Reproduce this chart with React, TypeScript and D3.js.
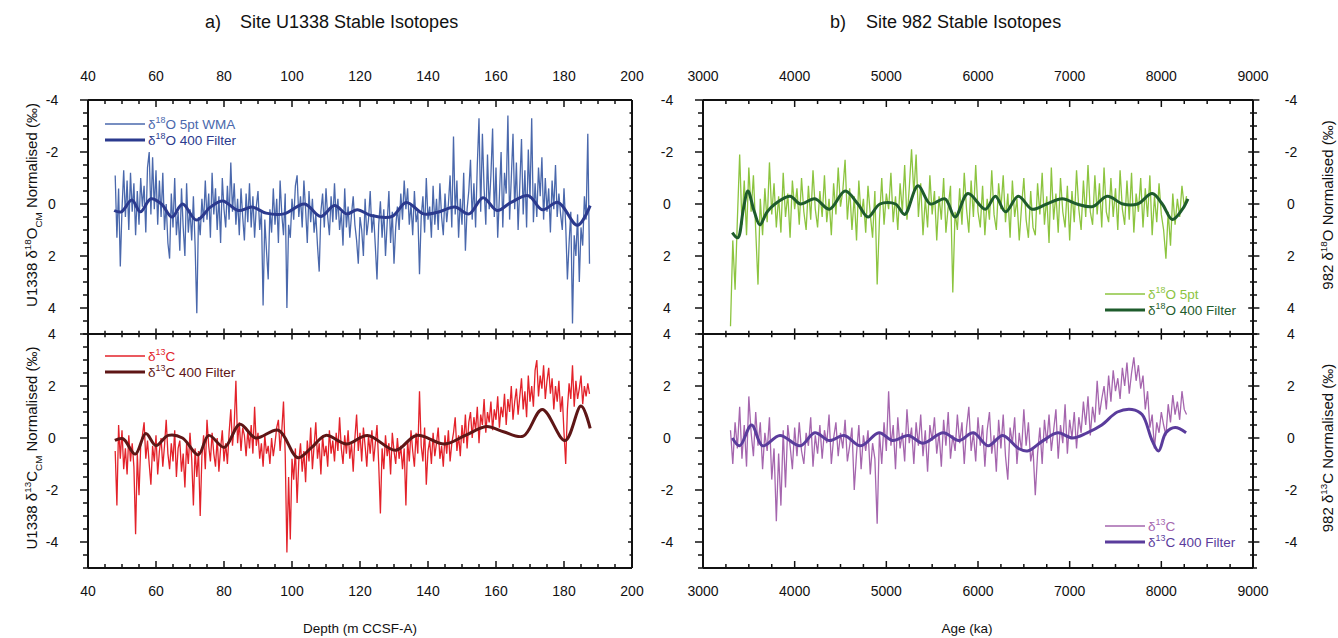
import React from 'react';
import * as d3 from 'd3';

const W = 1338, H = 638;

// ---------- ticks ----------
const depthTickLabels = [40, 60, 80, 100, 120, 140, 160, 180, 200];
const ageTickLabels = [3000, 4000, 5000, 6000, 7000, 8000, 9000];
const o18TickLabels = [-4, -2, 0, 2, 4];
const c13TickLabels = [4, 2, 0, -2, -4];

// ---------- U1338 (depth, m) ----------
const u1338Start = 48;
const u1338Step = 0.5;
const u1338O18 = [
  -1.1, 1.3, -0.6, 2.4, 0.2, -1.3, 0.5, -0.9, 1.0, -1.2,
  0.3, -0.8, 1.2, -0.5, 0.8, -1.0, 0.1, -0.7, 1.1, -1.4,
  -2.0, 0.4, -1.8, 0.2, -1.3, 0.8, -0.9, 0.5, -1.2, 1.0,
  0.0, 1.5, 2.1, -0.4, 0.9, -1.0, 1.2, 0.3, 1.8, -0.6,
  0.9, 2.0, -0.8, 1.1, 0.2, 1.4, -0.3, 1.6, 4.2, 0.5,
  1.2, -0.2, 0.7, -0.9, 0.6, -0.4, 1.3, -1.2, 0.4, -0.6,
  1.0, -0.3, 1.5, -1.0, 0.2, 0.9, -0.7, 0.6, -1.6, 0.3,
  -0.8, 0.8, -0.2, 1.2, -0.6, 0.5, 1.4, -0.4, 0.7, -0.8,
  0.9, -0.3, 1.3, 0.1, -0.5, 1.0, 0.3, 3.9, 0.6, 1.8,
  2.9, 0.2, 1.1, -0.6, 0.8, -0.2, 1.5, -0.9, 0.4, 1.2,
  -0.4, 4.0, 0.8, 1.3, -0.2, 0.6, -0.7, -1.1, 0.5, -0.3,
  0.9, -0.9, 0.2, 1.5, -0.5, 0.7, -0.2, 1.1, 0.4, 1.6,
  2.6, 0.3, -0.4, 0.9, -0.6, 0.5, 1.2, -0.3, 0.7, -0.8,
  0.6, -0.2, 1.0, 0.3, 1.6, -0.6, 0.9, 0.1, 1.3, 0.4,
  -0.3, 0.8, 1.4, 2.3, 0.5, 1.0, 2.0, -0.2, 1.2, 0.6,
  -0.5, 1.1, 0.4, 1.6, 2.9, 0.8, -0.1, 1.3, 0.2, 2.0,
  0.7, -0.5, 1.5, 0.3, 2.3, 0.9, 0.1, 1.0, -0.4, 0.6,
  -0.9, 0.2, -0.6, 0.8, 0.0, 1.2, -0.5, 0.7, 0.3, 2.7,
  0.5, -0.3, 1.1, -1.0, 0.6, 0.1, 1.3, -0.7, 0.8, -0.2,
  1.0, -0.8, 0.5, 1.2, -0.4, 0.7, 0.0, -1.1, 0.9, -2.6,
  0.4, -0.9, 1.3, -0.2, 0.8, -1.2, 1.8, 0.2, -0.5, -1.7,
  0.6, -0.8, 0.9, -1.5, -3.3, 0.3, -2.7, -0.6, 0.8, -1.9,
  0.2, -1.1, -2.9, 0.5, -1.4, 1.3, -0.3, -2.0, 0.9, -1.2,
  -0.4, -3.4, 0.6, -1.0, -2.7, 0.2, -1.6, 1.0, -0.7, -2.5,
  0.4, -1.3, 0.9, -2.1, -0.2, -3.3, 0.7, -0.8, 0.5, -1.4,
  -0.3, -1.8, 0.6, -1.0, 0.3, -0.6, 1.1, -0.9, 0.2, -1.5,
  0.5, -0.4, 0.4, 1.0, -0.6, 0.8, 2.9, 1.5, 0.3, 4.6,
  1.2, 2.0, 0.4, 3.0, 0.9, 1.6, -0.3, 0.6, -2.7, 2.3,
];
const u1338C13 = [
  -0.5, -2.6, 0.5, -0.8, 0.3, -1.2, -0.4, -1.4, 0.1, -0.9,
  -0.2, -1.1, -3.7, -0.6, -2.2, -0.3, 0.1, 0.6, -0.8, -0.1,
  -1.0, -1.8, -0.3, -0.9, 0.1, -1.4, -0.5, 0.0, -1.1, -0.3,
  0.7, -0.6, -1.2, -0.2, -0.9, 0.3, -1.5, -0.4, -0.1, -1.3,
  -0.6, -1.9, -0.2, -1.0, 0.2, -0.8, -2.6, -0.4, -1.5, -0.5,
  -3.0, -0.7, 0.1, -1.2, 0.7, -0.3, -0.9, 0.2, -0.6, -1.1,
  0.0, -1.3, -0.4, 0.3, -0.9, -0.2, -1.0, 0.2, 1.1, -0.3,
  0.5, 2.2, -0.2, 0.6, -0.5, 0.4, 0.1, -0.7, 0.3, -0.4,
  0.5, -0.6, 1.2, -0.3, 0.2, -0.8, -0.2, -1.1, 0.1, -0.6,
  -0.3, -1.0, 0.0, -0.7, -0.2, 0.4, 0.7, -0.5, 0.3, 1.4,
  -0.6, -4.4, -1.5, -3.9, -0.8, -1.6, -0.4, -2.5, -0.9, -0.2,
  -1.3, -0.5, -1.7, -0.1, -0.9, 0.4, -1.2, -0.3, 0.6, -0.8,
  -0.2, -1.4, 0.1, -0.7, -0.3, -1.1, 0.3, -0.6, -0.1, -0.9,
  0.2, -0.5, 0.8, -0.4, -1.0, 0.1, -0.6, 0.3, -0.8, -0.2,
  -1.3, 0.0, 0.9, -0.5, 0.2, -0.9, 0.4, -0.3, -1.1, 0.1,
  -0.6, 0.3, -0.9, -0.2, 0.5, -1.0, -2.9, -0.4, -1.2, 0.1,
  -0.7, -0.2, -1.4, 0.2, -0.5, -1.0, 0.0, -0.8, -0.3, -1.2,
  -0.4, -2.6, -0.1, -0.9, 0.3, -0.5, -1.1, 0.2, -0.6, 1.8,
  -0.3, -0.9, 0.4, -1.8, -0.5, -0.1, -1.0, 0.2, -0.7, -0.2,
  0.4, -0.8, -0.3, -1.1, 0.1, -0.6, 0.3, -0.9, -0.2, 0.2,
  0.8, -0.5, 0.1, -0.7, 0.5, -0.2, 0.9, -0.4, 0.6, 1.0,
  0.0, 0.8, 0.3, 1.2, -0.2, 0.9, 0.5, 1.5, 0.2, 1.0,
  0.6, 1.4, 0.3, 1.1, 0.7, 1.6, 0.4, 1.2, 0.8, 1.7,
  0.5, 1.5, 1.0, 2.0, 0.7, 1.4, 1.9, 0.9, 1.6, 2.3,
  1.1, 1.8, 0.8, 2.4, 1.4, 2.0, 1.2, 2.6, 3.0, 1.6,
  2.4, 1.9, 2.8, 1.5, 2.2, 2.7, 1.7, 2.3, 1.1, 2.0,
  1.4, 2.2, 1.0, 1.6, 0.2, -1.0, 1.1, 2.1, 1.5, 2.8,
  1.2, 2.2, 1.5, 1.9, 2.4, 1.3, 2.0, 1.6, 2.1, 1.7,
];
const u1338O18FilterDepth = [47.7, 49.8, 52.9, 55.4, 58.5, 61.6, 64.7, 67.8, 71.9, 76.0, 79.6, 84.2, 88.3, 92.4, 97.6, 103.7, 108.4, 112.5, 116.1, 119.2, 123.3, 129.4, 133.6, 138.7, 142.8, 147.9, 152.1, 156.2, 160.3, 164.4, 169.5, 173.6, 178.3, 183.9, 187.7];
const u1338O18FilterVal = [0.25, 0.3, -0.15, 0.3, -0.2, 0.0, 0.5, 0.0, 0.62, 0.12, -0.12, 0.25, 0.12, 0.35, 0.38, 0.0, 0.48, 0.06, 0.38, 0.22, 0.44, 0.48, -0.06, 0.38, 0.32, 0.12, 0.38, -0.24, 0.25, -0.06, -0.32, 0.22, -0.06, 0.82, 0.06];
const u1338C13FilterDepth = [47.9, 50.3, 53.9, 57.0, 60.0, 63.6, 67.8, 72.4, 75.5, 80.1, 84.7, 89.3, 96.0, 101.7, 105.8, 109.9, 116.1, 122.2, 130.5, 136.6, 144.9, 151.0, 157.2, 162.2, 168.0, 173.6, 180.3, 185.0, 187.7];
const u1338C13FilterVal = [-0.09, -0.03, -0.62, 0.17, -0.29, 0.1, 0.0, -0.65, 0.1, -0.36, 0.53, 0.0, 0.3, -0.76, -0.36, 0.1, -0.23, 0.1, -0.47, 0.1, -0.23, 0.1, 0.44, 0.24, 0.07, 1.1, -0.1, 1.23, 0.37];

// ---------- Site 982 (age, ka) ----------
const s982Start = 3300;
const s982Step = 25;
const s982O18 = [
  4.7, 1.4, 3.3, 0.6, -1.9, 0.8, -0.9, 1.2, -1.4, 0.3,
  -1.1, 1.0, 3.1, -0.2, 1.2, -0.6, 0.7, -1.6, 0.4, -0.8,
  0.9, -0.3, 1.1, -1.2, 0.5, -0.4, 1.3, -0.9, 0.2, -0.6,
  0.8, -1.0, 0.3, 1.0, -0.7, 0.6, -1.3, 0.2, 0.9, -0.5,
  0.5, -1.1, 0.7, -0.2, 1.2, -0.8, 0.4, -1.4, 0.1, -0.5,
  -1.7, 0.6, -0.6, 1.0, -0.3, 1.4, -0.9, 0.5, -0.2, 1.1,
  -0.7, 0.4, 1.3, -0.5, 3.1, 0.6, -1.0, 0.8, -0.4, 0.2,
  -1.2, 0.7, -0.3, 1.0, -0.8, 0.3, -1.5, 0.6, -0.6, -2.1,
  -0.4, -1.9, 0.5, -0.8, 1.2, -0.2, 0.9, -1.1, 0.4, -0.5,
  1.4, -0.3, 0.6, -1.0, 1.1, 0.1, -0.7, 3.4, 0.3, 1.0,
  -0.6, 0.8, -1.2, 0.2, 1.1, -0.9, 0.5, -1.5, 0.3, 0.9,
  -0.7, 1.2, -0.2, 0.6, -1.3, 0.4, 1.0, -0.8, 0.2, -1.1,
  0.7, -0.4, 1.3, -0.9, 0.5, -0.2, 1.4, 0.1, -1.0, 0.6,
  1.3, -0.5, 0.9, 1.2, -0.8, 0.4, -1.2, 0.8, -0.3, 1.5,
  -1.4, 0.6, -0.4, 1.1, -1.0, 0.3, 0.9, -0.7, 1.4, -0.5,
  0.7, -1.3, 0.2, 1.0, -0.9, 0.5, -1.5, 0.3, 0.8, -1.1,
  0.4, -0.8, 0.9, -1.4, 0.3, 0.7, -1.0, 0.5, -0.6, 1.0,
  -1.3, 0.2, 0.8, -0.9, 0.6, -1.2, 1.1, -0.4, 0.3, -1.0,
  0.9, -0.6, 0.5, -1.1, 1.2, -0.3, 0.7, -0.8, 0.4, 1.0,
  2.1, 0.3, 1.6, -0.4, 0.8, -0.2, 0.5, -0.7, 0.1, -0.3,
];
const s982C13 = [
  0.3, -1.0, 0.6, -0.4, 1.2, -0.8, 0.5, -1.1, 1.6, 0.2,
  -0.7, 1.0, -0.3, 0.6, -1.2, 0.2, -0.5, 0.8, -1.6, -0.4,
  -3.2, -0.6, -2.6, 0.3, -1.9, 0.5, -0.3, -1.2, 0.4, -0.7,
  0.6, -0.5, -1.0, 0.2, -0.3, 0.8, -1.1, 0.1, -0.6, 0.5,
  -0.8, 0.3, -0.2, 0.9, -1.0, 0.0, 0.6, -0.7, 0.2, -0.4,
  0.7, -0.9, -0.3, 0.4, -2.0, -0.6, 0.5, -1.2, 0.1, -0.5,
  0.3, -1.4, -0.2, -0.8, -3.3, 0.2, -1.0, 0.6, -0.5, 1.8,
  -0.3, 0.5, -1.2, 0.8, -0.4, 0.2, -0.9, 1.1, -0.2, 0.4,
  -1.0, 0.6, -0.3, 0.9, -0.7, 0.3, -1.3, 0.5, -0.1, 0.8,
  -0.6, 0.2, -1.1, 0.7, -0.3, 1.0, -0.8, 0.1, -0.5, 0.9,
  -0.2, 0.6, -1.0, 0.4, 1.2, -0.5, 0.2, -0.9, 0.8, -0.3,
  0.5, -1.1, 0.3, 1.0, -0.6, 0.1, -1.3, 0.7, -0.4, 0.9,
  -0.7, -1.6, 0.4, -0.2, 0.8, -1.0, 0.2, -0.5, 1.1, -0.3,
  0.6, -0.9, -0.4, -2.2, -0.6, 0.4, -1.0, 0.7, -0.2, 0.9,
  -0.5, 0.3, 1.1, -0.8, 0.5, -0.2, 1.3, -0.6, 0.7, 0.0,
  1.0, -0.4, 0.8, 0.2, 1.4, 0.5, 1.6, 0.1, 1.2, 0.6,
  2.2, 0.9, 1.5, 2.0, 1.1, 2.4, 1.4, 2.6, 1.8, 2.3,
  1.5, 2.7, 2.0, 2.9, 1.7, 2.5, 3.1, 2.2, 2.8, 1.9,
  2.4, 1.1, 1.8, 0.4, 0.9, -0.4, 0.6, 0.2, 1.0, 0.5,
  0.1, 1.3, 0.6, 1.65, 0.9, 1.4, 0.7, 1.8, 1.1, 0.9,
];
const s982O18FilterAge = [3320, 3380, 3440, 3490, 3560, 3620, 3700, 3785, 3950, 4060, 4220, 4380, 4550, 4690, 4800, 4930, 5100, 5200, 5345, 5480, 5640, 5750, 5890, 6080, 6190, 6300, 6440, 6590, 6750, 6920, 7080, 7250, 7410, 7580, 7740, 7900, 8010, 8120, 8230, 8290];
const s982O18FilterVal = [1.1, 1.3, 0.2, -0.5, 0.3, 0.8, 0.3, 0.0, -0.3, 0.0, -0.2, 0.2, -0.5, 0.0, 0.5, 0.0, 0.0, 0.4, -0.7, 0.0, -0.2, 0.5, -0.4, 0.2, -0.3, 0.3, -0.3, 0.2, 0.0, -0.2, 0.0, 0.1, -0.3, 0.0, 0.0, -0.4, 0.0, 0.6, 0.2, -0.2];
const s982C13FilterAge = [3320, 3400, 3530, 3650, 3840, 4060, 4220, 4380, 4540, 4720, 4920, 5070, 5240, 5400, 5620, 5790, 5950, 6110, 6270, 6440, 6540, 6710, 6870, 7030, 7190, 7350, 7520, 7680, 7790, 7900, 7970, 8050, 8150, 8270];
const s982C13FilterVal = [0.0, -0.3, 0.5, -0.3, 0.1, -0.3, 0.2, -0.1, 0.1, -0.3, 0.2, -0.1, 0.1, -0.2, 0.2, -0.1, 0.2, -0.3, 0.1, -0.4, -0.5, -0.1, 0.2, 0.0, 0.2, 0.5, 1.0, 1.1, 0.9, -0.1, -0.5, 0.2, 0.4, 0.2];

// ---------- colours ----------
const C = {
  blue: '#4a68ac', blueF: '#2b3a8e',
  red: '#e3222a', redF: '#5e1616',
  green: '#8cc43f', greenF: '#1e5c2c',
  purple: '#a566ae', purpleF: '#5a3c9c',
};

// ---------- geometry ----------
const yTop = 100, yMid = 334, yBot = 568;
const xDepth = d3.scaleLinear().domain([40, 200]).range([88, 632]);
const xAge = d3.scaleLinear().domain([3000, 9000]).range([703, 1253]);
const yO = d3.scaleLinear().domain([-4, 5]).range([yTop, yMid]);
const yC = d3.scaleLinear().domain([4, -5]).range([yMid, yBot]);

const FONT = 'Liberation Sans, Arial, Helvetica, sans-serif';

type Part = { t: string; s?: 'sup' | 'sub' };
function Rich({ x, y, parts, size, fill, anchor = 'start', transform }: { x: number; y: number; parts: Part[]; size: number; fill: string; anchor?: string; transform?: string }) {
  let shift = 0;
  const els = parts.map((p, i) => {
    const target = p.s === 'sup' ? -0.42 * size : p.s === 'sub' ? 0.3 * size : 0;
    const dy = target - shift;
    shift = target;
    return (
      <tspan key={i} dy={dy} fontSize={p.s ? size * 0.66 : size}>{p.t}</tspan>
    );
  });
  return (
    <text x={x} y={y} fill={fill} fontSize={size} textAnchor={anchor} fontFamily={FONT} transform={transform}>{els}</text>
  );
}

function seriesPath(vals: number[], start: number, step: number, xs: d3.ScaleLinear<number, number>, ys: d3.ScaleLinear<number, number>) {
  return d3.line<number>().x((_, i) => xs(start + i * step)).y((v) => ys(v))(vals) || '';
}
function filterPath(xv: number[], yv: number[], xs: d3.ScaleLinear<number, number>, ys: d3.ScaleLinear<number, number>) {
  const pts = xv.map((x, i) => [x, yv[i]] as [number, number]);
  return d3.line<[number, number]>().x((d) => xs(d[0])).y((d) => ys(d[1])).curve(d3.curveCatmullRom.alpha(0.5))(pts) || '';
}

function Frame({ xs, minorStep, majorStep, xLabels, leftLabels, rightLabels }: { xs: d3.ScaleLinear<number, number>; minorStep: number; majorStep: number; xLabels: number[]; leftLabels: boolean; rightLabels: boolean }) {
  const [d0, d1] = xs.domain();
  const x0 = xs(d0), x1 = xs(d1);
  const xMinor = d3.range(d0, d1 + minorStep / 2, minorStep);
  const yMinorO = d3.range(-4, 5.01, 0.5);
  const yMinorC = d3.range(-5, 4.01, 0.5);
  const els: React.ReactNode[] = [];
  const stroke = '#111';
  xMinor.forEach((v, i) => {
    const x = xs(v);
    const major = Math.abs(v % majorStep) < 1e-6;
    const L = major ? 7 : 4;
    els.push(<line key={'xt' + i} x1={x} x2={x} y1={yTop} y2={yTop + L} stroke={stroke} strokeWidth={1.5} />);
    els.push(<line key={'xb' + i} x1={x} x2={x} y1={yBot} y2={yBot - L} stroke={stroke} strokeWidth={1.5} />);
    els.push(<line key={'xm' + i} x1={x} x2={x} y1={yMid - L * 0.8} y2={yMid + L * 0.8} stroke={stroke} strokeWidth={1.5} />);
  });
  const yTicks = [
    ...yMinorO.map((v) => ({ y: yO(v), major: Math.abs(v % 2) < 1e-6 })),
    ...yMinorC.map((v) => ({ y: yC(v), major: Math.abs(v % 2) < 1e-6 })),
  ];
  yTicks.forEach((t, i) => {
    const L = t.major ? 8 : 5;
    els.push(<line key={'yl' + i} x1={x0 - L} x2={x0} y1={t.y} y2={t.y} stroke={stroke} strokeWidth={1.5} />);
    if (rightLabels) {
      els.push(<line key={'yr' + i} x1={x1 - L * 0.6} x2={x1 + L * 0.8} y1={t.y} y2={t.y} stroke={stroke} strokeWidth={1.5} />);
    } else {
      els.push(<line key={'yr' + i} x1={x1 - L * 0.5} x2={x1} y1={t.y} y2={t.y} stroke={stroke} strokeWidth={1.5} />);
    }
  });
  return (
    <g>
      {els}
      <line x1={x0} x2={x1} y1={yTop} y2={yTop} stroke={stroke} strokeWidth={2} />
      <line x1={x0} x2={x1} y1={yMid} y2={yMid} stroke={stroke} strokeWidth={2} />
      <line x1={x0} x2={x1} y1={yBot} y2={yBot} stroke={stroke} strokeWidth={2} />
      <line x1={x0} x2={x0} y1={yTop} y2={yBot} stroke={stroke} strokeWidth={2} />
      <line x1={x1} x2={x1} y1={yTop} y2={yBot} stroke={stroke} strokeWidth={2} />
      {xLabels.map((v) => (
        <g key={'xl' + v}>
          <text x={xs(v)} y={81} textAnchor="middle" fontSize={14} fontFamily={FONT} fill="#111">{v}</text>
          <text x={xs(v)} y={596} textAnchor="middle" fontSize={14} fontFamily={FONT} fill="#111">{v}</text>
        </g>
      ))}
      {leftLabels && o18TickLabels.map((v) => (
        <text key={'lo' + v} x={x0 - 36} y={yO(v)} dy="0.35em" textAnchor="middle" fontSize={14} fontFamily={FONT} fill="#111">{v}</text>
      ))}
      {leftLabels && c13TickLabels.map((v) => (
        <text key={'lc' + v} x={x0 - 36} y={yC(v)} dy="0.35em" textAnchor="middle" fontSize={14} fontFamily={FONT} fill="#111">{v}</text>
      ))}
      {rightLabels && o18TickLabels.map((v) => (
        <text key={'ro' + v} x={x1 + 38} y={yO(v)} dy="0.35em" textAnchor="middle" fontSize={14} fontFamily={FONT} fill="#111">{v}</text>
      ))}
      {rightLabels && c13TickLabels.map((v) => (
        <text key={'rc' + v} x={x1 + 38} y={yC(v)} dy="0.35em" textAnchor="middle" fontSize={14} fontFamily={FONT} fill="#111">{v}</text>
      ))}
    </g>
  );
}

function Legend({ x, y, items }: { x: number; y: number; items: { color: string; width: number; parts: Part[] }[] }) {
  return (
    <g>
      {items.map((it, i) => (
        <g key={i}>
          <line x1={x} x2={x + 40} y1={y + i * 16} y2={y + i * 16} stroke={it.color} strokeWidth={it.width} />
          <Rich x={x + 43} y={y + i * 16 + 5} parts={it.parts} size={13.5} fill={it.color} />
        </g>
      ))}
    </g>
  );
}

export default function App() {
  return (
    <svg width={W} height={H} style={{ position: 'absolute', left: 0, top: 0, background: '#fff' }}>
      <rect x={0} y={0} width={W} height={H} fill="#fff" />
      {/* Titles */}
      <text x={205} y={28} fontSize={18} fontFamily={FONT} fill="#111">a)</text>
      <text x={240} y={28} fontSize={18} fontFamily={FONT} fill="#111">Site U1338 Stable Isotopes</text>
      <text x={830} y={28} fontSize={18} fontFamily={FONT} fill="#111">b)</text>
      <text x={866} y={28} fontSize={18} fontFamily={FONT} fill="#111">Site 982 Stable Isotopes</text>

      {/* data: U1338 */}
      <path d={seriesPath(u1338O18, u1338Start, u1338Step, xDepth, yO)} fill="none" stroke={C.blue} strokeWidth={1.3} />
      <path d={filterPath(u1338O18FilterDepth, u1338O18FilterVal, xDepth, yO)} fill="none" stroke={C.blueF} strokeWidth={3} />
      <path d={seriesPath(u1338C13, u1338Start, u1338Step, xDepth, yC)} fill="none" stroke={C.red} strokeWidth={1.3} />
      <path d={filterPath(u1338C13FilterDepth, u1338C13FilterVal, xDepth, yC)} fill="none" stroke={C.redF} strokeWidth={3} />

      {/* data: 982 */}
      <path d={seriesPath(s982O18, s982Start, s982Step, xAge, yO)} fill="none" stroke={C.green} strokeWidth={1.3} />
      <path d={filterPath(s982O18FilterAge, s982O18FilterVal, xAge, yO)} fill="none" stroke={C.greenF} strokeWidth={3} />
      <path d={seriesPath(s982C13, s982Start, s982Step, xAge, yC)} fill="none" stroke={C.purple} strokeWidth={1.3} />
      <path d={filterPath(s982C13FilterAge, s982C13FilterVal, xAge, yC)} fill="none" stroke={C.purpleF} strokeWidth={3} />

      <Frame xs={xDepth} minorStep={5} majorStep={20} xLabels={depthTickLabels} leftLabels={true} rightLabels={false} />
      <Frame xs={xAge} minorStep={250} majorStep={1000} xLabels={ageTickLabels} leftLabels={true} rightLabels={true} />

      {/* legends */}
      <Legend x={105} y={124} items={[
        { color: C.blue, width: 1.3, parts: [{ t: 'δ' }, { t: '18', s: 'sup' }, { t: 'O 5pt WMA' }] },
        { color: C.blueF, width: 3, parts: [{ t: 'δ' }, { t: '18', s: 'sup' }, { t: 'O 400 Filter' }] },
      ]} />
      <Legend x={105} y={356} items={[
        { color: C.red, width: 1.3, parts: [{ t: 'δ' }, { t: '13', s: 'sup' }, { t: 'C' }] },
        { color: C.redF, width: 3, parts: [{ t: 'δ' }, { t: '13', s: 'sup' }, { t: 'C 400 Filter' }] },
      ]} />
      <Legend x={1105} y={294} items={[
        { color: C.green, width: 1.3, parts: [{ t: 'δ' }, { t: '18', s: 'sup' }, { t: 'O 5pt' }] },
        { color: C.greenF, width: 3, parts: [{ t: 'δ' }, { t: '18', s: 'sup' }, { t: 'O 400 Filter' }] },
      ]} />
      <Legend x={1105} y={526} items={[
        { color: C.purple, width: 1.3, parts: [{ t: 'δ' }, { t: '13', s: 'sup' }, { t: 'C' }] },
        { color: C.purpleF, width: 3, parts: [{ t: 'δ' }, { t: '13', s: 'sup' }, { t: 'C 400 Filter' }] },
      ]} />

      {/* axis titles */}
      <Rich x={0} y={0} anchor="middle" size={15} fill="#111" transform="translate(37,205) rotate(-90)"
        parts={[{ t: 'U1338 δ' }, { t: '18', s: 'sup' }, { t: 'O' }, { t: 'CM', s: 'sub' }, { t: ' Normalised (‰)' }]} />
      <Rich x={0} y={0} anchor="middle" size={15} fill="#111" transform="translate(37,448) rotate(-90)"
        parts={[{ t: 'U1338 δ' }, { t: '13', s: 'sup' }, { t: 'C' }, { t: 'CM', s: 'sub' }, { t: ' Normalised (‰)' }]} />
      <Rich x={0} y={0} anchor="middle" size={15} fill="#111" transform="translate(1333,205) rotate(-90)"
        parts={[{ t: '982 δ' }, { t: '18', s: 'sup' }, { t: 'O Normalised (‰)' }]} />
      <Rich x={0} y={0} anchor="middle" size={15} fill="#111" transform="translate(1333,448) rotate(-90)"
        parts={[{ t: '982 δ' }, { t: '13', s: 'sup' }, { t: 'C Normalised (‰)' }]} />
      <text x={360} y={633} textAnchor="middle" fontSize={13.5} fontFamily={FONT} fill="#111">Depth (m CCSF-A)</text>
      <text x={967} y={633} textAnchor="middle" fontSize={13.5} fontFamily={FONT} fill="#111">Age (ka)</text>
    </svg>
  );
}
